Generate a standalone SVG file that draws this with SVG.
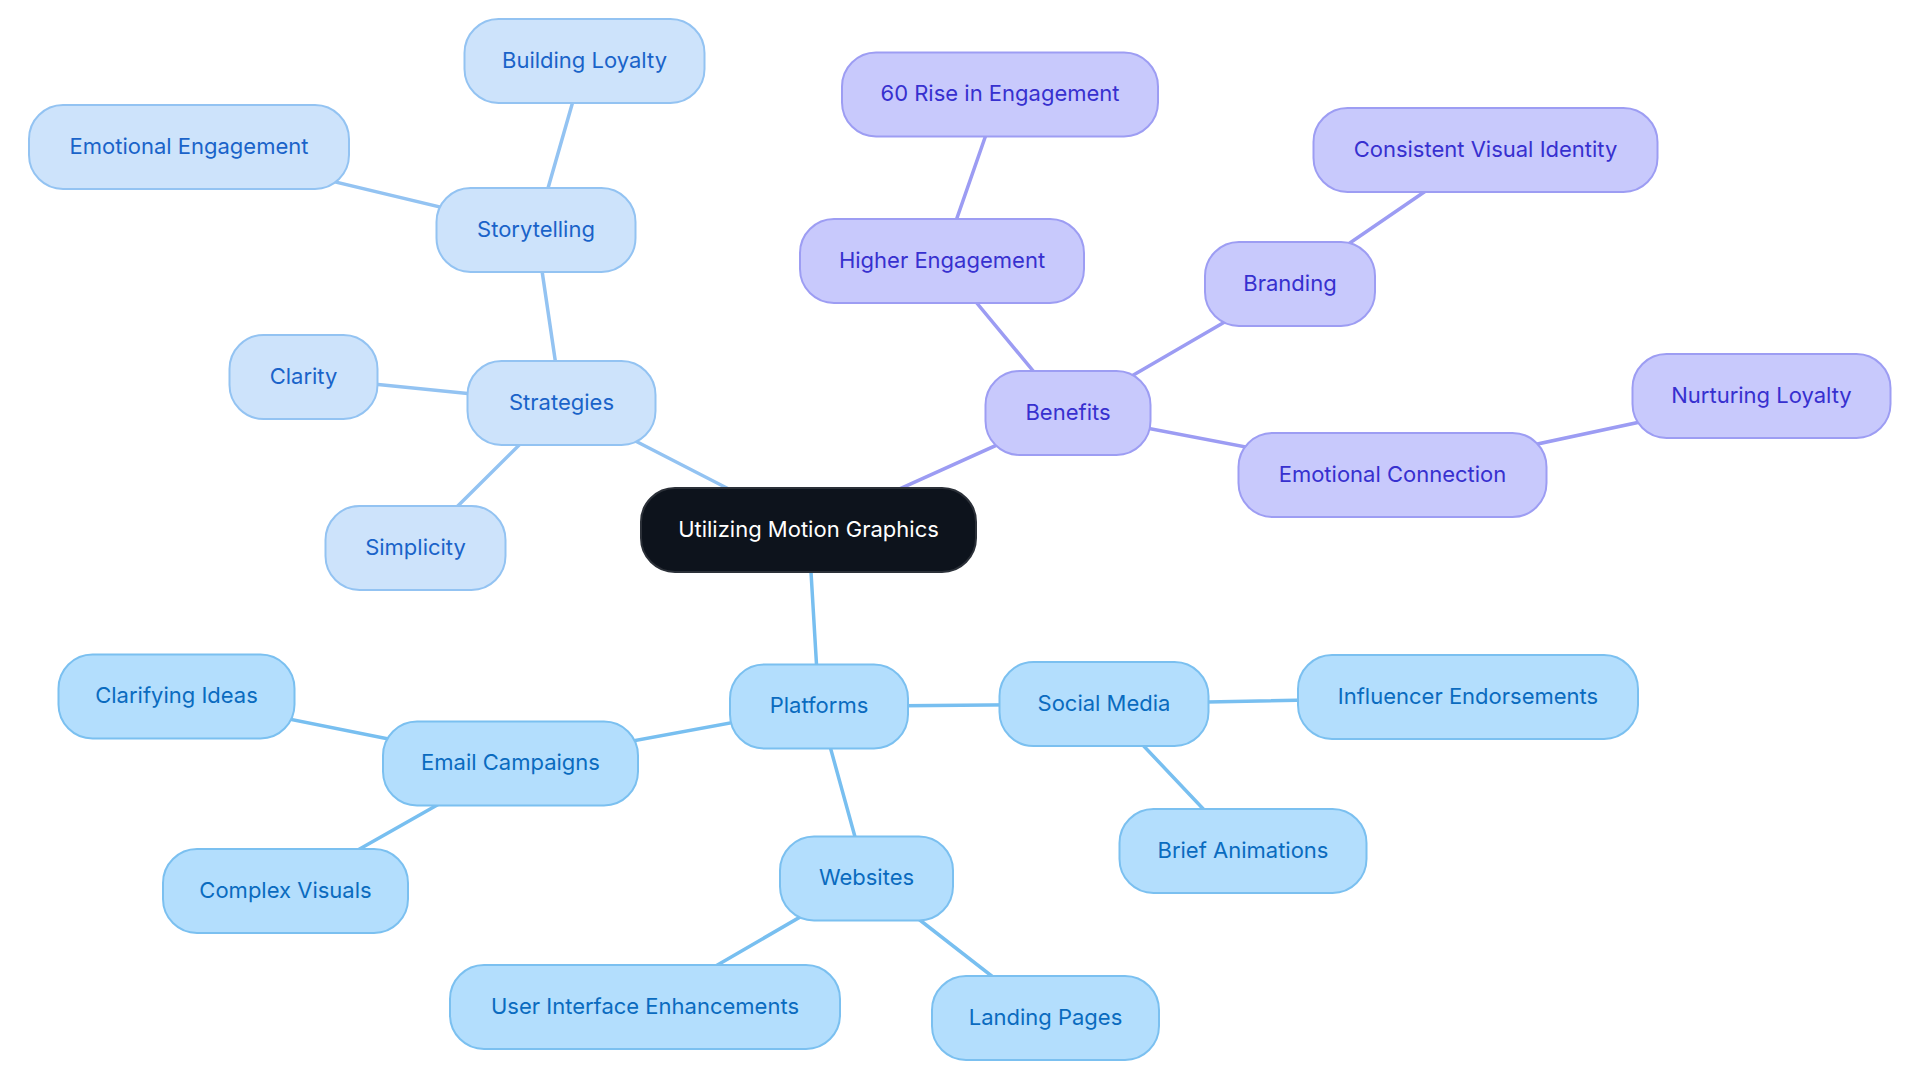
<svg xmlns="http://www.w3.org/2000/svg" width="1920" height="1083" viewBox="0 0 1920 1083">
<style>
text{font-family:Inter,"Noto Sans","Liberation Sans",sans-serif;font-size:22px;text-anchor:middle}
.n rect{stroke-width:2}
.n text{transform:translateY(-1.5px)}
.s rect{fill:#cde3fb;stroke:#93c3f2}
.s text{fill:#1a63c9}
.p rect{fill:#b3defd;stroke:#7bc0f0}
.p text{fill:#0a6bbf}
.b rect{fill:#c8c9fc;stroke:#9d9df3}
.b text{fill:#3730cf}
.r rect{fill:#0d131c;stroke:#2b3038}
.r text{fill:#ffffff}
#edges line{stroke-width:3.5;stroke-linecap:round}
.es{stroke:#93c3f2}
.ep{stroke:#78bff0}
.eb{stroke:#9c9cf3}
</style>
<rect width="1920" height="1083" fill="#ffffff"/>
<g id="edges">
<line class="es" x1="808.5" y1="530" x2="561.5" y2="403"/>
<line class="es" x1="561.5" y1="403" x2="536" y2="230"/>
<line class="es" x1="536" y1="230" x2="584.5" y2="61"/>
<line class="es" x1="536" y1="230" x2="189" y2="147"/>
<line class="es" x1="561.5" y1="403" x2="303.5" y2="377"/>
<line class="es" x1="561.5" y1="403" x2="415.5" y2="548"/>
<line class="eb" x1="808.5" y1="530" x2="1068" y2="413"/>
<line class="eb" x1="1068" y1="413" x2="942" y2="261"/>
<line class="eb" x1="942" y1="261" x2="1000" y2="94.5"/>
<line class="eb" x1="1068" y1="413" x2="1290" y2="284"/>
<line class="eb" x1="1290" y1="284" x2="1485.5" y2="150"/>
<line class="eb" x1="1068" y1="413" x2="1392.5" y2="475"/>
<line class="eb" x1="1392.5" y1="475" x2="1761.5" y2="396"/>
<line class="ep" x1="808.5" y1="530" x2="819" y2="706.5"/>
<line class="ep" x1="819" y1="706.5" x2="1104" y2="704"/>
<line class="ep" x1="1104" y1="704" x2="1468" y2="697"/>
<line class="ep" x1="1104" y1="704" x2="1243" y2="851"/>
<line class="ep" x1="819" y1="706.5" x2="866.5" y2="878.5"/>
<line class="ep" x1="866.5" y1="878.5" x2="645" y2="1007"/>
<line class="ep" x1="866.5" y1="878.5" x2="1045.5" y2="1018"/>
<line class="ep" x1="819" y1="706.5" x2="510.5" y2="763.5"/>
<line class="ep" x1="510.5" y1="763.5" x2="176.5" y2="696.5"/>
<line class="ep" x1="510.5" y1="763.5" x2="285.5" y2="891"/>
</g>
<g id="root" class="n r"><rect x="641" y="488" width="335" height="84" rx="34"/><text x="808.5" y="538">Utilizing Motion Graphics</text></g>
<g id="strategies" class="n s"><rect x="467.5" y="361" width="188" height="84" rx="34"/><text x="561.5" y="411">Strategies</text></g>
<g id="storytelling" class="n s"><rect x="436.5" y="188" width="199" height="84" rx="34"/><text x="536" y="238">Storytelling</text></g>
<g id="building-loyalty" class="n s"><rect x="464.5" y="19" width="240" height="84" rx="34"/><text x="584.5" y="69">Building Loyalty</text></g>
<g id="emotional-engagement" class="n s"><rect x="29" y="105" width="320" height="84" rx="34"/><text x="189" y="155">Emotional Engagement</text></g>
<g id="clarity" class="n s"><rect x="229.5" y="335" width="148" height="84" rx="34"/><text x="303.5" y="385">Clarity</text></g>
<g id="simplicity" class="n s"><rect x="325.5" y="506" width="180" height="84" rx="34"/><text x="415.5" y="556">Simplicity</text></g>
<g id="benefits" class="n b"><rect x="985.5" y="371" width="165" height="84" rx="34"/><text x="1068" y="421">Benefits</text></g>
<g id="higher-engagement" class="n b"><rect x="800" y="219" width="284" height="84" rx="34"/><text x="942" y="269">Higher Engagement</text></g>
<g id="rise-engagement" class="n b"><rect x="842" y="52.5" width="316" height="84" rx="34"/><text x="1000" y="102.5">60 Rise in Engagement</text></g>
<g id="branding" class="n b"><rect x="1205" y="242" width="170" height="84" rx="34"/><text x="1290" y="292">Branding</text></g>
<g id="visual-identity" class="n b"><rect x="1313.5" y="108" width="344" height="84" rx="34"/><text x="1485.5" y="158">Consistent Visual Identity</text></g>
<g id="emotional-connection" class="n b"><rect x="1238.5" y="433" width="308" height="84" rx="34"/><text x="1392.5" y="483">Emotional Connection</text></g>
<g id="nurturing-loyalty" class="n b"><rect x="1632.5" y="354" width="258" height="84" rx="34"/><text x="1761.5" y="404">Nurturing Loyalty</text></g>
<g id="platforms" class="n p"><rect x="730" y="664.5" width="178" height="84" rx="34"/><text x="819" y="714.5">Platforms</text></g>
<g id="social-media" class="n p"><rect x="999.5" y="662" width="209" height="84" rx="34"/><text x="1104" y="712">Social Media</text></g>
<g id="influencer" class="n p"><rect x="1298" y="655" width="340" height="84" rx="34"/><text x="1468" y="705">Influencer Endorsements</text></g>
<g id="brief-animations" class="n p"><rect x="1119.5" y="809" width="247" height="84" rx="34"/><text x="1243" y="859">Brief Animations</text></g>
<g id="websites" class="n p"><rect x="780" y="836.5" width="173" height="84" rx="34"/><text x="866.5" y="886.5">Websites</text></g>
<g id="ui-enhancements" class="n p"><rect x="450" y="965" width="390" height="84" rx="34"/><text x="645" y="1015">User Interface Enhancements</text></g>
<g id="landing-pages" class="n p"><rect x="932" y="976" width="227" height="84" rx="34"/><text x="1045.5" y="1026">Landing Pages</text></g>
<g id="email-campaigns" class="n p"><rect x="383" y="721.5" width="255" height="84" rx="34"/><text x="510.5" y="771.5">Email Campaigns</text></g>
<g id="clarifying-ideas" class="n p"><rect x="58.5" y="654.5" width="236" height="84" rx="34"/><text x="176.5" y="704.5">Clarifying Ideas</text></g>
<g id="complex-visuals" class="n p"><rect x="163" y="849" width="245" height="84" rx="34"/><text x="285.5" y="899">Complex Visuals</text></g>
</svg>
